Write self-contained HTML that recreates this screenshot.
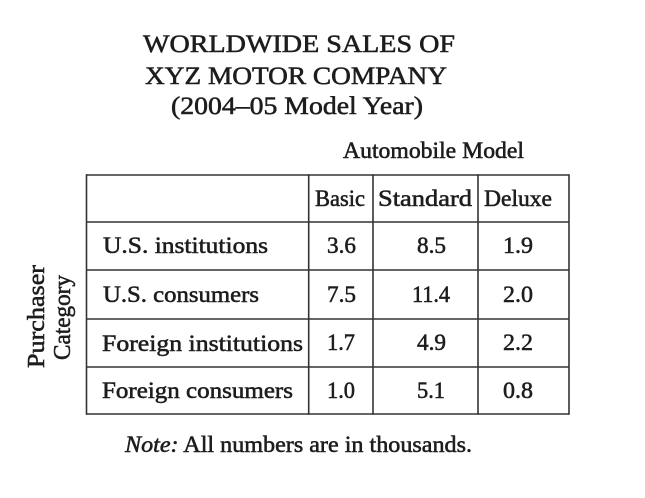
<!DOCTYPE html>
<html>
<head>
<meta charset="utf-8">
<style>
  html,body{margin:0;padding:0;background:#fff;}
  svg{display:block;}
  text{font-family:"Liberation Serif", serif; fill:#1e1c1d; stroke:#1e1c1d; stroke-width:0.55px;}
</style>
</head>
<body>
<svg width="645" height="498" viewBox="0 0 645 498" xmlns="http://www.w3.org/2000/svg">
  <rect width="645" height="498" fill="#fff"/>
  <!-- Title -->
  <text x="143" y="52" font-size="25" textLength="312" lengthAdjust="spacingAndGlyphs">WORLDWIDE SALES OF</text>
  <text x="145" y="84" font-size="25" textLength="302" lengthAdjust="spacingAndGlyphs">XYZ MOTOR COMPANY</text>
  <text x="171" y="114" font-size="25" textLength="252" lengthAdjust="spacingAndGlyphs">(2004–05 Model Year)</text>

  <text x="343" y="158" font-size="23" textLength="181" lengthAdjust="spacingAndGlyphs">Automobile Model</text>

  <!-- Table lines -->
  <g stroke="#333" stroke-width="1.6" fill="none">
    <line x1="86" y1="175" x2="569" y2="175"/>
    <line x1="86" y1="222" x2="569" y2="222"/>
    <line x1="86" y1="270" x2="569" y2="270"/>
    <line x1="86" y1="319" x2="569" y2="319"/>
    <line x1="86" y1="367" x2="569" y2="367"/>
    <line x1="86" y1="414" x2="569" y2="414"/>
    <line x1="86.5" y1="174.2" x2="86.5" y2="414.8"/>
    <line x1="308.7" y1="174.2" x2="308.7" y2="414.8"/>
    <line x1="373" y1="174.2" x2="373" y2="414.8"/>
    <line x1="478" y1="174.2" x2="478" y2="414.8"/>
    <line x1="569" y1="174.2" x2="569" y2="414.8"/>
  </g>

  <!-- Header -->
  <text x="315" y="206" font-size="23" textLength="50" lengthAdjust="spacingAndGlyphs">Basic</text>
  <text x="378" y="206" font-size="23" textLength="94" lengthAdjust="spacingAndGlyphs">Standard</text>
  <text x="484" y="206" font-size="23" textLength="68" lengthAdjust="spacingAndGlyphs">Deluxe</text>

  <!-- Row labels -->
  <text x="103" y="253" font-size="23" textLength="165" lengthAdjust="spacingAndGlyphs">U.S. institutions</text>
  <text x="103" y="302" font-size="23" textLength="156" lengthAdjust="spacingAndGlyphs">U.S. consumers</text>
  <text x="102" y="351" font-size="23" textLength="201" lengthAdjust="spacingAndGlyphs">Foreign institutions</text>
  <text x="102" y="398" font-size="23" textLength="191" lengthAdjust="spacingAndGlyphs">Foreign consumers</text>

  <!-- Numbers -->
  <g font-size="23">
    <text x="327" y="253" textLength="29" lengthAdjust="spacingAndGlyphs">3.6</text>
    <text x="417" y="253" textLength="29" lengthAdjust="spacingAndGlyphs">8.5</text>
    <text x="503" y="253" textLength="30" lengthAdjust="spacingAndGlyphs">1.9</text>

    <text x="327" y="302" textLength="29" lengthAdjust="spacingAndGlyphs">7.5</text>
    <text x="412" y="302" textLength="38" lengthAdjust="spacingAndGlyphs">11.4</text>
    <text x="503" y="302" textLength="30" lengthAdjust="spacingAndGlyphs">2.0</text>

    <text x="327" y="350" textLength="28" lengthAdjust="spacingAndGlyphs">1.7</text>
    <text x="417" y="350" textLength="29" lengthAdjust="spacingAndGlyphs">4.9</text>
    <text x="503" y="350" textLength="30" lengthAdjust="spacingAndGlyphs">2.2</text>

    <text x="327" y="398" textLength="28" lengthAdjust="spacingAndGlyphs">1.0</text>
    <text x="417" y="398" textLength="28" lengthAdjust="spacingAndGlyphs">5.1</text>
    <text x="503" y="398" textLength="30" lengthAdjust="spacingAndGlyphs">0.8</text>
  </g>

  <!-- Vertical label -->
  <text transform="translate(44,368) rotate(-90)" font-size="24" textLength="103" lengthAdjust="spacingAndGlyphs">Purchaser</text>
  <text transform="translate(70,360) rotate(-90)" font-size="24" textLength="85" lengthAdjust="spacingAndGlyphs">Category</text>

  <!-- Note -->
  <text x="125" y="452" font-size="23" textLength="347" lengthAdjust="spacingAndGlyphs"><tspan font-style="italic">Note:</tspan> All numbers are in thousands.</text>
</svg>
</body>
</html>
